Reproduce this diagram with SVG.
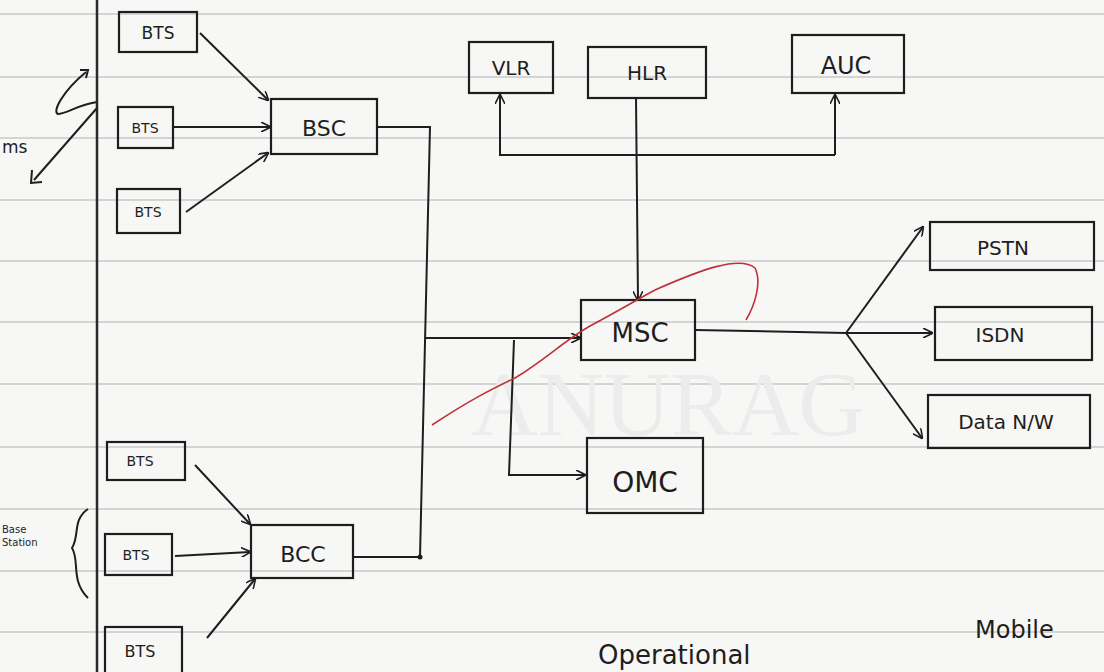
<svg xmlns="http://www.w3.org/2000/svg" width="1104" height="672" viewBox="0 0 1104 672">
<defs>
<style>
.rule{stroke:#c9c9c9;stroke-width:1.5;fill:none}
.box{fill:none;stroke:#1e1e1e;stroke-width:2.2}
.ln{fill:none;stroke:#1e1e1e;stroke-width:2}
.t{font-family:"DejaVu Sans","Liberation Sans",sans-serif;fill:#1e1e1e;text-anchor:middle}
.hand{font-family:"DejaVu Sans","Liberation Sans",sans-serif;fill:#1e1e1e}
.wm{font-family:"Liberation Serif",serif;fill:#ececec}
</style>
<marker id="ah" viewBox="0 0 10 10" refX="9" refY="5" markerWidth="10" markerHeight="10" markerUnits="userSpaceOnUse" orient="auto">
<path d="M0,0 L10,5 L0,10" fill="none" stroke="#1e1e1e" stroke-width="1.6"/>
</marker>
</defs>
<rect width="1104" height="672" fill="#f7f7f5"/>
<g id="paper">
<path class="rule" d="M0,14H1104M0,77H1104M0,138H1104M0,200H1104M0,261H1104M0,322H1104M0,384H1104M0,447H1104M0,509H1104M0,571H1104M0,632H1104"/>
<line x1="97" y1="0" x2="97" y2="672" stroke="#2a2a2a" stroke-width="2.5"/>
<text class="wm" x="668" y="435" font-size="92" text-anchor="middle">ANURAG</text>
</g>
<g id="connectors">
<line class="ln" x1="200" y1="33" x2="268" y2="100" marker-end="url(#ah)"/>
<line class="ln" x1="174" y1="127" x2="270" y2="127" marker-end="url(#ah)"/>
<line class="ln" x1="186" y1="212" x2="268" y2="153" marker-end="url(#ah)"/>
<line class="ln" x1="195" y1="465" x2="250" y2="524" marker-end="url(#ah)"/>
<line class="ln" x1="175" y1="556" x2="250" y2="552" marker-end="url(#ah)"/>
<line class="ln" x1="207" y1="638" x2="255" y2="579" marker-end="url(#ah)"/>
<polyline class="ln" points="378,127 430,127 420,557 354,557"/>
<circle cx="420" cy="557" r="2.5" fill="#1e1e1e"/>
<line class="ln" x1="426" y1="338" x2="580" y2="338" marker-end="url(#ah)"/>
<polyline class="ln" points="514,340 509,475 585,475" marker-end="url(#ah)"/>
<line class="ln" x1="636" y1="98" x2="638" y2="300" marker-end="url(#ah)"/>
<polyline class="ln" points="835,155 500,155 500,95" marker-end="url(#ah)"/>
<line class="ln" x1="835" y1="155" x2="835" y2="95" marker-end="url(#ah)"/>
<line class="ln" x1="695" y1="330" x2="846" y2="333"/>
<line class="ln" x1="846" y1="333" x2="923" y2="227" marker-end="url(#ah)"/>
<line class="ln" x1="846" y1="333" x2="932" y2="333" marker-end="url(#ah)"/>
<line class="ln" x1="846" y1="333" x2="922" y2="438" marker-end="url(#ah)"/>
</g>
<g id="BTS1"><rect class="box" x="119" y="12" width="78" height="40"/><text class="t" x="158" y="39" font-size="17">BTS</text></g>
<g id="BTS2"><rect class="box" x="118" y="107" width="55" height="41"/><text class="t" x="145" y="133" font-size="14">BTS</text></g>
<g id="BTS3"><rect class="box" x="117" y="189" width="63" height="44"/><text class="t" x="148" y="217" font-size="14">BTS</text></g>
<g id="BSC1"><rect class="box" x="271" y="99" width="106" height="55"/><text class="t" x="324" y="136" font-size="22">BSC</text></g>
<g id="VLR"><rect class="box" x="469" y="42" width="84" height="51"/><text class="t" x="511" y="75" font-size="20">VLR</text></g>
<g id="HLR"><rect class="box" x="588" y="47" width="118" height="51"/><text class="t" x="647" y="80" font-size="20">HLR</text></g>
<g id="AUC"><rect class="box" x="792" y="35" width="112" height="58"/><text class="t" x="846" y="74" font-size="24">AUC</text></g>
<g id="MSC"><rect class="box" x="581" y="300" width="114" height="60"/><text class="t" x="640" y="342" font-size="26">MSC</text></g>
<g id="OMC"><rect class="box" x="587" y="438" width="116" height="75"/><text class="t" x="645" y="492" font-size="28">OMC</text></g>
<g id="PSTN"><rect class="box" x="930" y="222" width="164" height="48"/><text class="t" x="1003" y="255" font-size="20">PSTN</text></g>
<g id="ISDN"><rect class="box" x="935" y="307" width="157" height="53"/><text class="t" x="1000" y="342" font-size="20">ISDN</text></g>
<g id="DataNW"><rect class="box" x="928" y="395" width="162" height="53"/><text class="t" x="1006" y="429" font-size="20">Data N/W</text></g>
<g id="BSC2"><rect class="box" x="251" y="525" width="102" height="53"/><text class="t" x="303" y="562" font-size="22">BCC</text></g>
<g id="BTS4"><rect class="box" x="107" y="442" width="78" height="38"/><text class="t" x="140" y="466" font-size="14">BTS</text></g>
<g id="BTS5"><rect class="box" x="105" y="534" width="67" height="41"/><text class="t" x="136" y="560" font-size="14">BTS</text></g>
<g id="BTS6"><rect class="box" x="105" y="627" width="77" height="50"/><text class="t" x="140" y="657" font-size="16">BTS</text></g>
<g id="annotations">
<path class="ln" d="M97,102 C80,104 66,114 58,114 C52,112 62,92 86,72" stroke-width="1.6"/>
<path class="ln" d="M80,70 L88,70 L86,78" stroke-width="1.6"/>
<path class="ln" d="M97,108 L34,180 M32,170 L31,183 L42,182" stroke-width="1.6"/>
<text class="hand" x="2" y="153" font-size="17" fill="#1e1e60">ms</text>
<path class="ln" d="M88,509 C72,520 80,535 72,548 C80,560 70,580 88,598" stroke-width="1.6"/>
<text class="hand" x="2" y="533" font-size="10">Base</text>
<text class="hand" x="2" y="546" font-size="10">Station</text>
<path d="M432,425 C470,400 490,390 515,378 C545,360 565,340 590,326 C620,310 640,298 655,290 C700,270 740,255 755,268 C762,282 755,305 746,320" fill="none" stroke="#c0303a" stroke-width="1.6"/>
<text class="hand" x="598" y="664" font-size="26">Operational</text>
<text class="hand" x="975" y="638" font-size="24">Mobile</text>
</g>
</svg>
